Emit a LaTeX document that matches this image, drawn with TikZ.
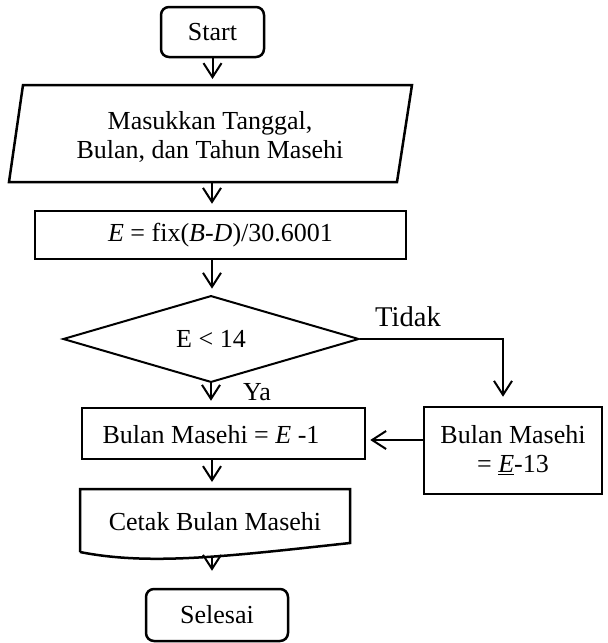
\documentclass[tikz,border=0pt]{standalone}
\usepackage{fontspec}
\setmainfont{Liberation Serif}
\usetikzlibrary{arrows.meta,shapes.geometric,calc}
\begin{document}
\begin{tikzpicture}[x=0.5pt,y=-0.5pt,
  every node/.style={font=\fontsize{13}{14.5}\selectfont, inner sep=0pt},
  outline/.style={draw, line width=1.25pt, line join=miter},
  termbox/.style={outline, rounded corners=4pt},
  procbox/.style={outline},
  decbox/.style={draw, line width=1pt, diamond, inner sep=0pt},
  arr/.style={line width=1pt, -{Straight Barb[length=7pt,width=9pt]}},
  lbl/.style={font=\fontsize{13}{14.5}\selectfont},
  biglbl/.style={font=\fontsize{14.3}{16}\selectfont}]
\useasboundingbox (0,0) rectangle (608,643);

% column used by the vertical connectors
\coordinate (col) at (212,0);

% start
\node[termbox, minimum width=51.5pt, minimum height=25pt] (start) at (212.5,32) {Start};

% input (parallelogram)
\coordinate (p1) at (23,85);
\coordinate (p2) at (412,85);
\coordinate (p3) at (397,182);
\coordinate (p4) at (9,182);
\draw[outline] (p1) -- (p2) -- (p3) -- (p4) -- cycle;
\node[align=center] (inp) at (210,136.5) {Masukkan Tanggal,\\Bulan, dan Tahun Masehi};

% computation of E
\node[procbox, minimum width=185.5pt, minimum height=24pt] (calc) at (220.5,235)
  {\textit{E} = fix(\textit{B}-\textit{D})/30.6001};

% decision
\node[decbox, minimum width=148pt, minimum height=43pt] (dec) at (211,339) {E < 14};

% month for E < 14
\node[procbox, minimum width=141.5pt, minimum height=25.5pt] (bulan) at (223.5,433.5) {};
\node (bulantxt) at (211,435) {Bulan Masehi = \textit{E} -1};

% month otherwise
\node[procbox, align=center, minimum width=89pt, minimum height=43.5pt] (alt) at (513,450.5)
  {Bulan Masehi\\= \underline{\textit{E}}-13};

% output (document shape)
\coordinate (c1) at (80,489);
\coordinate (c2) at (350,489);
\coordinate (c3) at (350,543);
\coordinate (c4) at (80,552);
\draw[outline] (c4) -- (c1) -- (c2) -- (c3) .. controls (230,556) and (150,566) .. (c4);
\node (cetak) at (215,522) {Cetak Bulan Masehi};
\coordinate (cb) at (212,557);

% end
\node[termbox, minimum width=71pt, minimum height=26pt] (selesai) at (217,615) {Selesai};

% connectors
\draw[arr, shorten >=3pt] (start.south) -- (start.south |- p1);
\draw[arr, shorten >=3pt] (col |- p4) -- (col |- calc.north);
\draw[arr, shorten >=3pt] (col |- calc.south) -- (col |- dec.north);
\draw[arr, shorten >=3pt] (dec.south) -- (dec.south |- bulan.north);
\node[lbl] (ya) at (257,392) {Ya};

\coordinate (tx) at (503,0);
\draw[arr, shorten >=4.5pt] (dec.east) -| (tx |- alt.north);
\node[biglbl] (tidak) at (408,317) {Tidak};

\coordinate (ry) at (0,440);
\draw[arr, shorten >=2pt] (alt.west |- ry) -- (bulan.east |- ry);

\draw[arr, shorten >=3.5pt] (col |- bulan.south) -- (col |- c1);
\draw[arr, shorten >=8.5pt] (cb) -- (cb |- selesai.north);
\end{tikzpicture}
\end{document}
